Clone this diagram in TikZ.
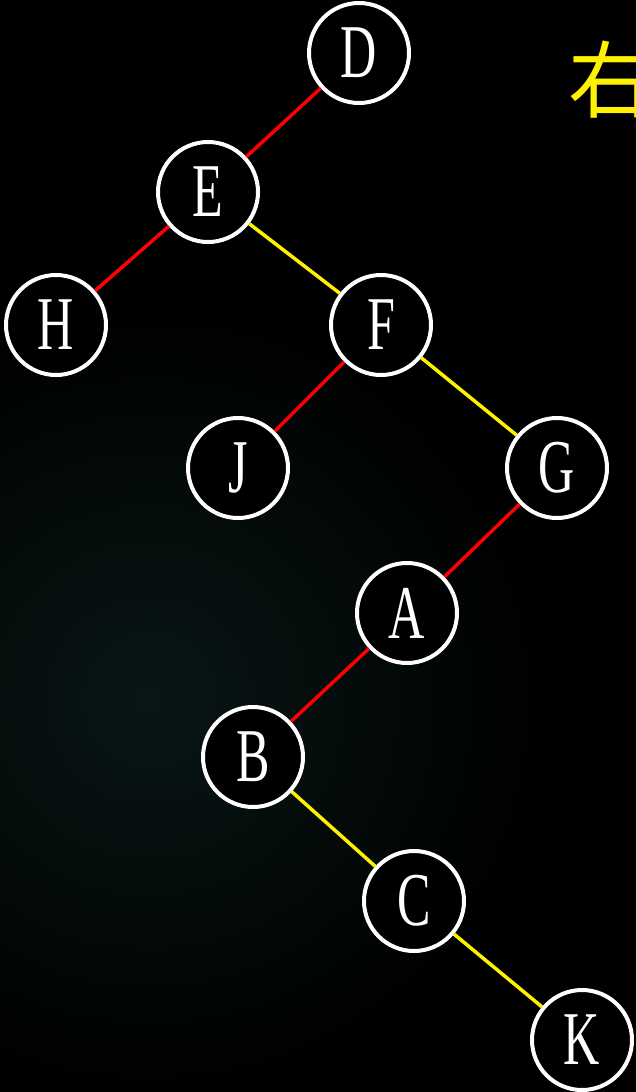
\documentclass[tikz,border=0pt]{standalone}
\usepackage{fontspec}
\usepackage{graphicx}
\newfontfamily\letterfont{Liberation Serif}
\newfontfamily\cjkfont{Noto Sans CJK SC}
\definecolor{bgteal}{RGB}{9,22,22}
\begin{document}
\begin{tikzpicture}[x=1pt,y=-1pt,
  tnode/.style={circle,draw=white,fill=black,line width=4pt,minimum size=100pt,inner sep=0pt,
    text=white,font=\letterfont\fontsize{76}{76}\selectfont},
  redge/.style={draw=red,line width=3.5pt},
  yedge/.style={draw=yellow,line width=3.5pt}]
\useasboundingbox (0,0) rectangle (636,1092);
\clip (0,0) rectangle (636,1092);
\fill[black] (0,0) rectangle (636,1092);
\shade[inner color=bgteal,outer color=black] (-250,300) rectangle (550,1100);
\newcommand{\lt}[1]{\raisebox{-4pt}{\scalebox{0.66}[1]{#1}}}
\node[tnode] (D) at (359,53) {\lt{D}};
\node[tnode] (E) at (208,192) {\lt{E}};
\node[tnode] (H) at (56,325) {\lt{H}};
\node[tnode] (F) at (381,325) {\lt{F}};
\node[tnode] (J) at (238,468) {\lt{J}};
\node[tnode] (G) at (557,468) {\lt{G}};
\node[tnode] (A) at (407,613) {\lt{A}};
\node[tnode] (B) at (253,757) {\lt{B}};
\node[tnode] (C) at (414,901) {\lt{C}};
\node[tnode] (K) at (582,1040) {\lt{K}};
\draw[redge] (D) -- (E);
\draw[redge] (E) -- (H);
\draw[yedge] (E) -- (F);
\draw[redge] (F) -- (J);
\draw[yedge] (F) -- (G);
\draw[redge] (G) -- (A);
\draw[redge] (A) -- (B);
\draw[yedge] (B) -- (C);
\draw[yedge] (C) -- (K);
\node[anchor=west,inner sep=0pt,text=yellow,font=\cjkfont\fontsize{84}{84}\selectfont] (T) at (568,80) {右};
\end{tikzpicture}
\end{document}
